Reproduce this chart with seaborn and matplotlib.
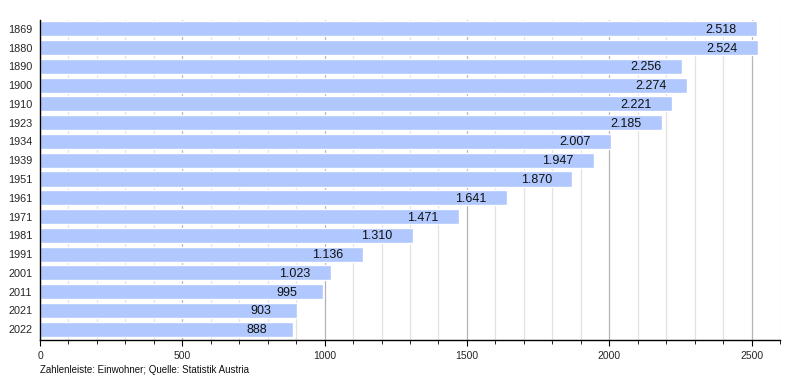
import pandas as pd
import matplotlib
matplotlib.use('Agg')
import matplotlib.pyplot as plt
import seaborn as sns
from matplotlib.ticker import MultipleLocator

# Data
YEARS = ["1869", "1880", "1890", "1900", "1910", "1923", "1934", "1939", "1951",
         "1961", "1971", "1981", "1991", "2001", "2011", "2021", "2022"]
POPULATION = [2518, 2524, 2256, 2274, 2221, 2185, 2007, 1947, 1870,
              1641, 1471, 1310, 1136, 1023, 995, 903, 888]
SOURCE = "Zahlenleiste: Einwohner; Quelle: Statistik Austria"

BAR_COLOR = "#b0c8fd"

sns.set_theme(style="white")
plt.rcParams['font.family'] = ['Liberation Sans', 'DejaVu Sans']

df = pd.DataFrame({"year": YEARS, "pop": POPULATION})

fig = plt.figure(figsize=(8, 3.8), dpi=100)
ax = fig.add_axes([0.05, 0.105, 0.925, 0.842])

# grid first so bars sit on top
ax.set_axisbelow(True)
ax.xaxis.set_major_locator(MultipleLocator(500))
ax.xaxis.set_minor_locator(MultipleLocator(100))
ax.grid(which='minor', axis='x', color='#e2e2e2', linewidth=0.9)
ax.grid(which='major', axis='x', color='#b4b4b4', linewidth=0.9)

sns.barplot(data=df, x="pop", y="year", orient="h", color=BAR_COLOR,
            saturation=1, width=0.8, ax=ax)

for i, v in enumerate(POPULATION):
    label = f"{v:,}".replace(",", ".")
    ax.annotate(label, xy=(v, i), xytext=(-36, -1), textcoords='offset pixels',
                ha='center', va='center', fontsize=9, color='#111111')

ax.set_xlim(0, 2600)
ax.set_ylim(16.58, -0.46)
ax.set_xlabel("")
ax.set_ylabel("")

for s in ['top', 'right']:
    ax.spines[s].set_visible(False)
for s in ['left', 'bottom']:
    ax.spines[s].set_color('black')
    ax.spines[s].set_linewidth(1.0)

ax.tick_params(axis='x', which='major', bottom=True, length=4, width=0.8,
               color='black', labelsize=7.5, pad=4)
ax.tick_params(axis='x', which='minor', bottom=True, length=3, width=0.6,
               color='black')
ax.tick_params(axis='y', left=False, length=0, labelsize=7.8, pad=5.5)

fig.text(0.05, 0.012, SOURCE, fontsize=7, ha='left', va='bottom', color='#111111')

fig.savefig("out.png", dpi=100)
